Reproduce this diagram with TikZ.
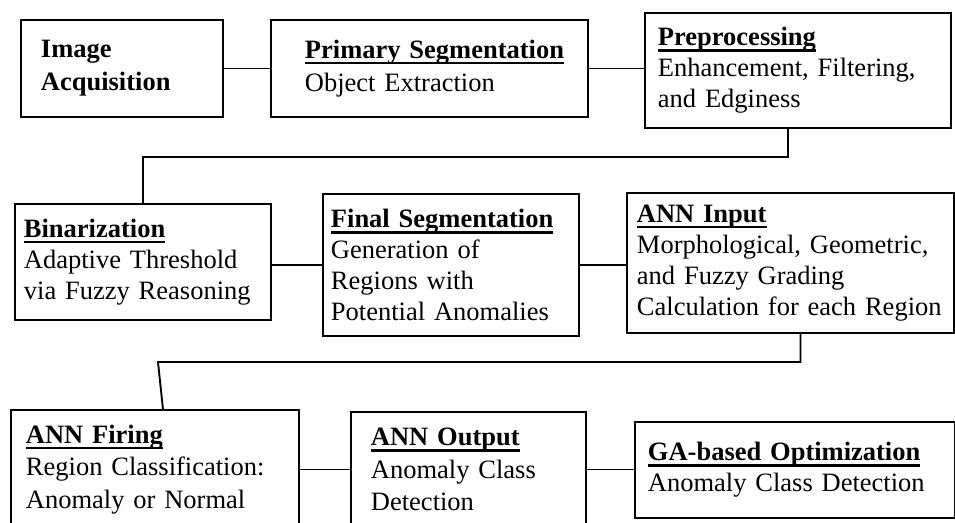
\documentclass[tikz,border=0pt]{standalone}
\usepackage{fontspec}
\setmainfont{Liberation Serif}

\newsavebox\titlebox
\newcommand{\stagetitle}[1]{\sbox\titlebox{\bfseries #1}\rlap{\rule[-6pt]{\wd\titlebox}{2.6pt}}\usebox\titlebox}

\begin{document}
\begin{tikzpicture}[x=1pt, y=-1pt,
		stage/.style={rectangle, draw, line width=1.9pt, anchor=north west, align=left, inner ysep=0pt, font=\fontsize{26.5}{31}\selectfont},
		link/.style={line width=1.9pt}
		]
		\useasboundingbox (0,0) rectangle (955,522);
		
		% first row
		\node [stage, minimum width=202pt, minimum height=97pt, text width=162pt, inner xsep=20pt, font=\fontsize{26.5}{33}\selectfont] (image acquisition) at (20,19) {\textbf{Image}\\\textbf{Acquisition}};
		\node [stage, minimum width=317pt, minimum height=97pt, text width=249pt, inner xsep=34pt, font=\fontsize{26.5}{33}\selectfont] (primary segmentation) at (270,19) {\stagetitle{Primary Segmentation}\\Object Extraction};
		\node [stage, minimum width=306pt, minimum height=115pt, text width=280pt, inner xsep=13pt] (preprocessing) at (644,12) {\stagetitle{Preprocessing}\\Enhancement, Filtering,\\and Edginess};
		
		% second row
		\node [stage, minimum width=256pt, minimum height=116pt, text width=238pt, inner xsep=9pt] (binarization) at (14,203) {\stagetitle{Binarization}\\Adaptive Threshold\\via Fuzzy Reasoning};
		\node [stage, minimum width=256pt, minimum height=142pt, text width=240pt, inner xsep=8pt] (final segmentation) at (322,193) {\stagetitle{Final Segmentation}\\Generation of\\Regions with\\Potential Anomalies};
		\node [stage, minimum width=327pt, minimum height=140pt, text width=307pt, inner xsep=10pt] (ann input) at (626,192) {\stagetitle{ANN Input}\\Morphological, Geometric,\\and Fuzzy Grading\\Calculation for each Region};
		
		% third row
		\node [stage, minimum width=288pt, minimum height=119pt, text width=258pt, inner xsep=15pt, font=\fontsize{26.5}{32.5}\selectfont] (ann firing) at (10,409) {\stagetitle{ANN Firing}\\Region Classification:\\Anomaly or Normal};
		\node [stage, minimum width=235pt, minimum height=115pt, text width=195pt, inner xsep=20pt, font=\fontsize{26.5}{32.5}\selectfont] (ann output) at (350,411) {\stagetitle{ANN Output}\\Anomaly Class\\Detection};
		\node [stage, minimum width=320pt, minimum height=96pt, text width=294pt, inner xsep=13pt] (ga optimization) at (634,421) {\stagetitle{GA-based Optimization}\\Anomaly Class Detection};
		
		\coordinate (turn one) at (143,157);
		\coordinate (turn two) at (158,362);
		
		\draw [link] (image acquisition) -- (primary segmentation);
		\draw [link] (primary segmentation.east) -- (primary segmentation.east -| preprocessing.west);
		\draw [link] ([xshift=-10pt]preprocessing.south) |- (turn one) -- (binarization.north);
		\draw [link] (final segmentation.west -| binarization.east) -- (final segmentation.west);
		\draw [link] (final segmentation.east) -- (final segmentation.east -| ann input.west);
		\draw [link] ([xshift=10pt]ann input.south) |- (turn two) -- ([xshift=8pt]ann firing.north);
		\draw [link] (ann firing.east) -- (ann firing.east -| ann output.west);
		\draw [link] (ann firing.east -| ann output.east) -- (ann firing.east -| ga optimization.west);
	\end{tikzpicture}
\end{document}
